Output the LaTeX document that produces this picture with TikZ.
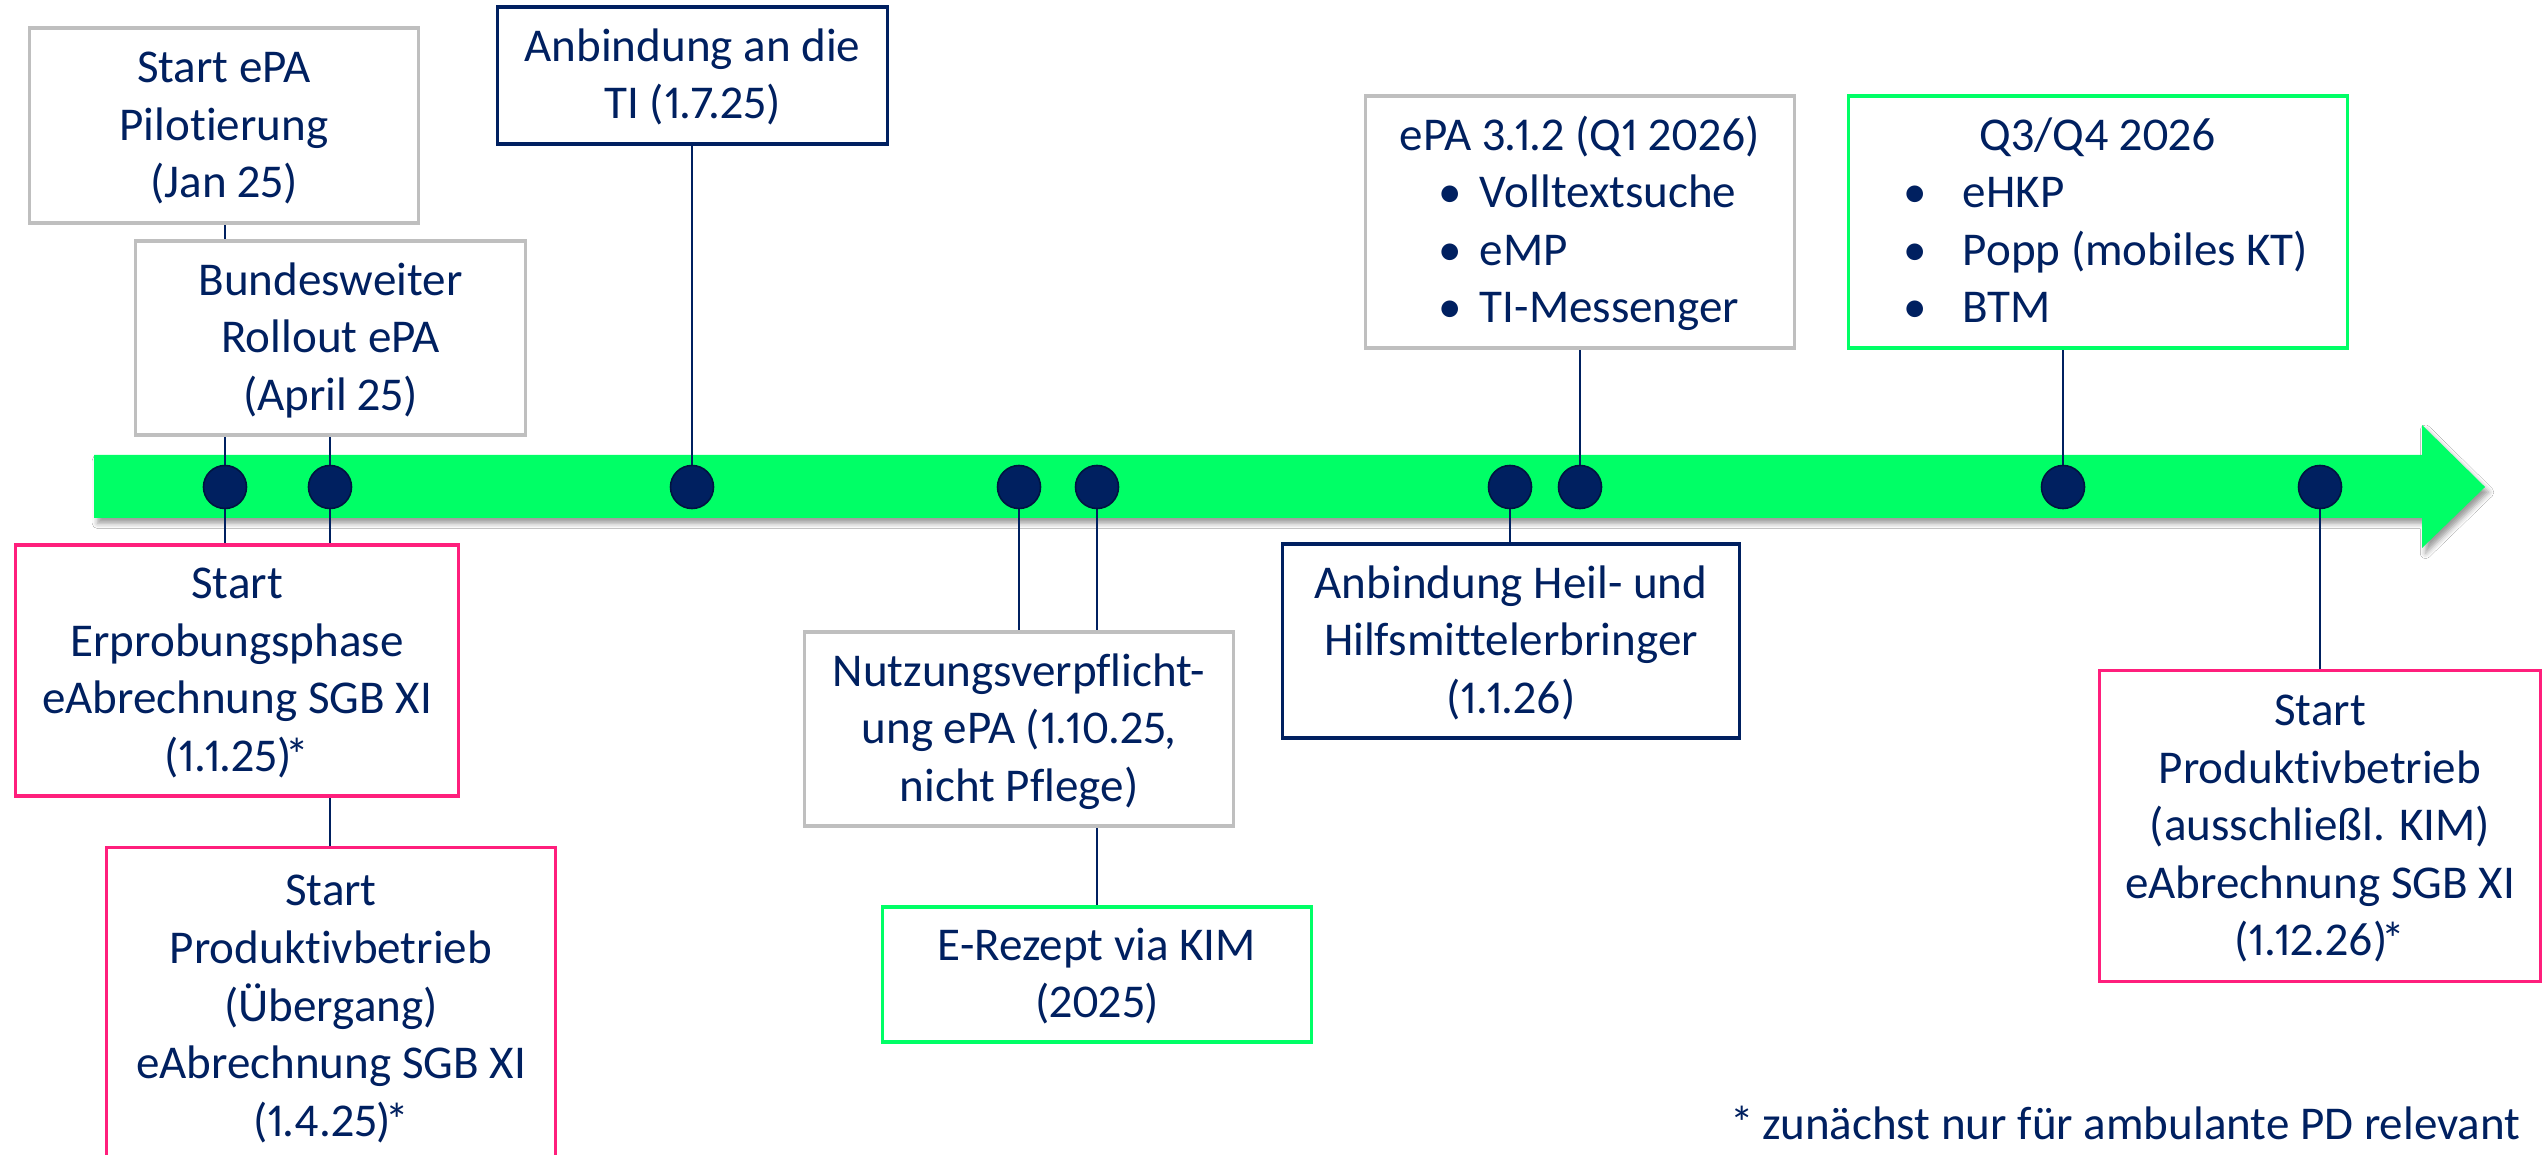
\documentclass[tikz,border=0pt]{standalone}
\usepackage{fontspec}
\setmainfont{Carlito}[Ligatures={TeX,CommonOff},Numbers=Proportional]
\usetikzlibrary{shadows.blur}
\definecolor{navy}{RGB}{0,32,96}
\definecolor{navyline}{RGB}{0,20,64}
\definecolor{tlgreen}{RGB}{0,255,102}
\definecolor{tlpink}{RGB}{255,31,124}
\definecolor{tlgray}{RGB}{191,191,191}
\newcommand\mytop{\rule{0pt}{0.82em}}
\newcommand\mybot{\rule[-0.2em]{0pt}{0pt}}
\newcommand\tlstar{\kern-0.12em*}
\newcommand\bul[2]{\hspace*{#1}\makebox[0pt][c]{•}\hspace*{#2}}
\pgfdeclarelayer{bg}
\pgfsetlayers{bg,main}
\begin{document}
\begin{tikzpicture}[x=0.01cm,y=-0.01cm,
  txt/.style={font=\fontsize{13.38pt}{16.37pt}\selectfont, text=navy},
  tlbox/.style={txt, fill=white, line width=0.9pt, inner sep=0pt, align=center},
  graybox/.style={tlbox, draw=tlgray},
  navybox/.style={tlbox, draw=navy},
  greenbox/.style={tlbox, draw=tlgreen},
  pinkbox/.style={tlbox, draw=tlpink},
  tldot/.style={circle, fill=navy, draw=navyline, line width=0.45pt, minimum size=0.43cm, inner sep=0pt},
  tlconn/.style={draw=navy, line width=0.55pt},
]
\useasboundingbox (0,0) rectangle (2542,1155);

% boxes above the timeline
\node[graybox, minimum width=3.88cm, minimum height=1.95cm] (b1) at (224,125.5)
  {\mytop Start ePA\\Pilotierung\\(Jan 25)\mybot};
\node[graybox, minimum width=3.89cm, minimum height=1.94cm] (b2) at (330.5,338)
  {\mytop Bundesweiter\\Rollout ePA\\(April 25)\mybot};
\node[navybox, minimum width=3.89cm, minimum height=1.37cm] (b3) at (692.5,75.5)
  {\mytop Anbindung an die\\TI (1.7.25)\mybot};
\node[graybox, text width=4.28cm, align=flush left, minimum height=2.52cm] (b4) at (1580,222)
  {\makebox[4.28cm][c]{\mytop ePA 3.1.2 (Q1 2026)}\\
   \bul{0.84cm}{0.30cm}Volltextsuche\\
   \bul{0.84cm}{0.30cm}eMP\\
   \bul{0.84cm}{0.30cm}TI-Messenger\mybot};
\node[greenbox, text width=4.98cm, align=flush left, minimum height=2.52cm] (b5) at (2098,222)
  {\makebox[4.98cm][c]{\mytop Q3/Q4 2026}\\
   \bul{0.66cm}{0.48cm}eHKP\\
   \bul{0.66cm}{0.48cm}Popp (mobiles KT)\\
   \bul{0.66cm}{0.48cm}BTM\mybot};

% boxes below the timeline
\node[pinkbox, minimum width=4.42cm, minimum height=2.51cm] (p1) at (237,670.5)
  {\mytop Start\\Erprobungsphase\\eAbrechnung SGB XI\\(1.1.25)\tlstar\mybot};
\node[pinkbox, minimum width=4.48cm, minimum height=3.17cm] (p2) at (331,1006.5)
  {\mytop Start\\Produktivbetrieb\\(Übergang)\\eAbrechnung SGB XI\\(1.4.25)\tlstar\mybot};
\node[graybox, minimum width=4.28cm, minimum height=1.94cm] (n1) at (1019,729)
  {\mytop Nutzungsverpflicht-\\ung ePA (1.10.25,\\nicht Pflege)\mybot};
\node[greenbox, minimum width=4.28cm, minimum height=1.35cm] (g1) at (1097,974.5)
  {\mytop E-Rezept via KIM\\(2025)\mybot};
\node[navybox, minimum width=4.56cm, minimum height=1.94cm] (h1) at (1511,641)
  {\mytop Anbindung Heil- und\\Hilfsmittelerbringer\\(1.1.26)\mybot};
\node[pinkbox, minimum width=4.40cm, minimum height=3.10cm] (p3) at (2320,826)
  {\mytop Start\\Produktivbetrieb\\(ausschließl. KIM)\\eAbrechnung SGB XI\\(1.12.26)\tlstar\mybot};

% dots on the timeline
\node[tldot] (d1) at (225,487) {};
\node[tldot] (d2) at (330,487) {};
\node[tldot] (d3) at (692,487) {};
\node[tldot] (d4) at (1019,487) {};
\node[tldot] (d5) at (1097,487) {};
\node[tldot] (d6) at (1510,487) {};
\node[tldot] (d7) at (1580,487) {};
\node[tldot] (d8) at (2063,487) {};
\node[tldot] (d9) at (2320,487) {};

\node[txt, anchor=base east] (fn) at (2533,1139) {*\,zunächst nur für ambulante PD relevant};

\begin{pgfonlayer}{bg}
  \fill[white] (0,0) rectangle (2542,1155);
  \fill[tlgreen, blur shadow={shadow xshift=1pt, shadow yshift=-1.5pt, shadow blur radius=1.5pt, shadow opacity=40}]
    (94,455) -- (2422,455) -- (2422,425) -- (2485,487) -- (2422,548) -- (2422,518) -- (94,518) -- cycle;
  \draw[tlconn] (d1.center) -- (d1 |- b1.south);
  \draw[tlconn] (d1.center) -- (d1 |- p1.north);
  \draw[tlconn] (d2.center) -- (d2 |- b2.south);
  \draw[tlconn] (d2.center) -- (d2 |- p2.north);
  \draw[tlconn] (d3.center) -- (d3 |- b3.south);
  \draw[tlconn] (d4.center) -- (d4 |- n1.north);
  \draw[tlconn] (d5.center) -- (d5 |- g1.north);
  \draw[tlconn] (d6.center) -- (d6 |- h1.north);
  \draw[tlconn] (d7.center) -- (d7 |- b4.south);
  \draw[tlconn] (d8.center) -- (d8 |- b5.south);
  \draw[tlconn] (d9.center) -- (d9 |- p3.north);
\end{pgfonlayer}
\end{tikzpicture}
\end{document}
